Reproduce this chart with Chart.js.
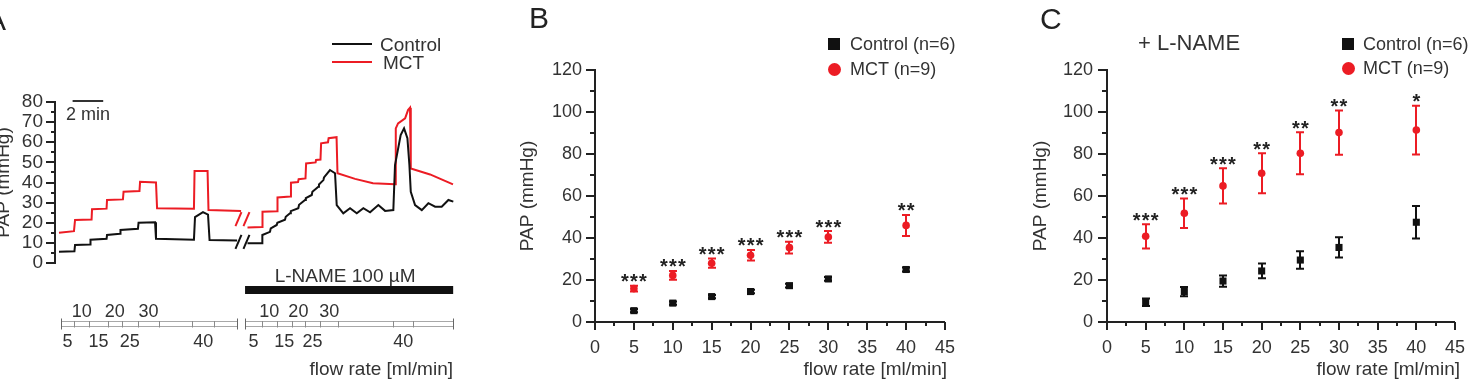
<!DOCTYPE html>
<html><head><meta charset="utf-8">
<script src="https://cdn.jsdelivr.net/npm/chart.js@4.4.1/dist/chart.umd.min.js"></script>
<style>
html,body{margin:0;padding:0;background:#fff;}
body{width:1480px;height:385px;overflow:hidden;position:relative;font-family:"Liberation Sans",Arial,sans-serif;color:#333;}
canvas{position:absolute;top:0;}
.t{position:absolute;white-space:nowrap;line-height:1;}
.sw{position:absolute;}
</style></head>
<body>
<canvas id="cA" width="470" height="385" style="left:0px"></canvas>
<canvas id="cB" width="500" height="385" style="left:470px"></canvas>
<canvas id="cC" width="500" height="385" style="left:980px"></canvas>
<div id="overlay"></div>
<script>
// ---------- Panel A: recorded PAP traces (time in min, pressure in mmHg) ----------
const ctrlPreT = [0.26,1.27,1.31,2.29,2.32,3.37,3.40,4.25,4.28,5.42,5.46,6.54,6.60,9.08,9.15,9.67,10.00,10.10,11.90];
const ctrlPreP = [5.6,5.8,8.9,9.2,11.6,12.0,13.9,14.5,16.4,17.0,20.0,20.2,12.0,11.6,22.8,25.3,24.0,11.4,11.2];
const ctrlPostT = [12.58,13.53,13.55,14.05,14.10,14.49,14.53,15.03,15.08,15.36,15.41,15.90,15.95,16.34,16.39,16.78,16.82,17.21,17.25,17.54,17.58,17.97,18.30,18.41,18.84,19.28,19.72,20.15,20.59,21.13,21.57,22.11,22.22,22.59,22.81,23.03,23.16,23.25,23.53,23.97,24.40,24.84,25.27,25.71,26.03];
const ctrlPostP = [9.8,9.8,13.9,15.5,17.2,18.9,20.0,21.5,23.0,24.7,25.8,27.2,28.9,31.3,32.2,33.8,35.4,37.9,39.0,41.2,42.5,46.2,44.6,28.8,24.7,27.2,24.7,27.2,25.2,28.8,25.9,26.3,48.7,63.6,66.9,62.0,48.7,35.4,28.8,26.3,29.7,28.0,28.0,31.3,30.5];
const mctPreT = [0.26,1.24,1.31,2.39,2.42,3.37,3.40,4.44,4.48,5.52,5.56,6.60,6.67,9.08,9.12,9.97,10.03,12.16];
const mctPreP = [15.0,15.8,21.4,21.6,26.7,27.0,31.3,31.6,35.4,35.8,40.4,40.0,27.2,27.0,45.7,45.7,26.3,25.8];
const mctPostT = [12.58,13.53,13.56,14.51,14.54,15.39,15.42,15.88,15.92,16.37,16.41,17.03,17.06,17.35,17.39,17.84,17.88,18.40,18.46,19.61,20.78,22.22,22.27,22.42,22.88,23.07,23.20,23.25,24.51,26.01];
const mctPostP = [17.7,17.9,25.5,25.7,32.6,33.0,39.9,40.2,41.6,42.0,49.5,50.0,51.2,51.4,59.5,60.0,62.0,62.5,44.6,41.8,39.6,39.1,66.9,69.4,71.9,76.0,77.2,47.0,44.0,39.1];
const breakT = 12.25;
const scaleBarT = [1.15, 3.15];          // "2 min" bar
const lnameT = [12.42, 26.02];            // L-NAME 100 µM application
const flowBoundsPre = [0.37,1.26,2.24,3.44,4.36,5.41,6.80,8.97,10.41,11.87];
const flowBoundsPost = [12.42,13.51,14.49,15.47,16.34,17.32,18.52,22.11,23.42,26.03];
const flowStepLabels = ['5','10','15','20','25','30','','40',''];
const tracePapTicks = [0, 80, 5, 10];     // min, max, minor step, labelled step

// ---------- Panels B and C: mean ± SEM ----------
const flowRates = [5, 10, 15, 20, 25, 30, 40];
const ctrlB    = [5.4, 9.0, 12.1, 14.5, 17.3, 20.5, 25.0];
const ctrlSemB = [0.8, 0.8, 0.8, 0.8, 0.9, 0.9, 0.9];
const mctB     = [15.9, 22.2, 28.0, 31.8, 35.4, 40.5, 46.0];
const mctSemB  = [1.4, 2.1, 2.2, 2.5, 2.8, 2.8, 5.0];
const starsB   = ['***','***','***','***','***','***','**'];
const ctrlC    = [9.4, 14.5, 19.5, 24.3, 29.5, 35.5, 47.5];
const ctrlSemC = [1.8, 2.2, 2.7, 3.5, 4.2, 4.8, 7.7];
const mctC     = [40.8, 51.8, 64.8, 70.8, 80.3, 90.2, 91.4];
const mctSemC  = [5.8, 7.0, 8.4, 9.5, 10.0, 10.5, 11.6];
const starsC   = ['***','***','***','**','**','**','*'];
const groupNames = ['Control (n=6)', 'MCT (n=9)'];
const traceNames = ['Control', 'MCT'];
const xTicksBC = [0, 45, 2.5, 5];
const yTicksBC = [0, 120, 10, 20];

const RED = '#ec1c24', BLACK = '#111111', TXT = '#333333';
const FONT = '"Liberation Sans", Arial, sans-serif';
const pts = (xs, ys) => xs.map((x, i) => ({x, y: ys[i]}));

// ---------- plugins ----------
const tickMarks = {
  id: 'tickMarks',
  afterDraw(chart, args, opts) {
    const ctx = chart.ctx;
    ['x', 'y'].forEach(id => {
      const o = opts[id]; const s = chart.scales[id];
      if (!o || !s) return;
      ctx.save(); ctx.strokeStyle = o.color; ctx.lineWidth = o.width;
      s.ticks.forEach(t => {
        const r = t.value / o.major;
        const major = Math.abs(r - Math.round(r)) < 1e-6;
        const len = major ? o.majorLen : o.minorLen;
        const p = Math.round(s.getPixelForValue(t.value));
        ctx.beginPath();
        if (id === 'y') { ctx.moveTo(s.right, p); ctx.lineTo(s.right - len, p); }
        else { ctx.moveTo(p, s.top); ctx.lineTo(p, s.top + len); }
        ctx.stroke();
      });
      ctx.restore();
    });
  }
};

const axisTitles = {
  id: 'axisTitles',
  afterDraw(chart, args, o) {
    const ctx = chart.ctx, ca = chart.chartArea;
    ctx.save(); ctx.fillStyle = TXT; ctx.font = o.size + 'px ' + FONT;
    if (o.y) {
      ctx.save();
      ctx.translate(o.y.x, (ca.top + ca.bottom) / 2 + (o.y.dy || 0));
      ctx.rotate(-Math.PI / 2);
      ctx.textAlign = 'center'; ctx.textBaseline = 'middle';
      ctx.fillText(o.y.text, 0, 0);
      ctx.restore();
    }
    if (o.x) {
      ctx.textAlign = 'right'; ctx.textBaseline = 'middle';
      ctx.fillText(o.x.text, ca.right + (o.x.dx || 0), o.x.y);
    }
    ctx.restore();
  }
};

const errorBars = {
  id: 'errorBars',
  beforeDatasetsDraw(chart) {
    const ctx = chart.ctx, xs = chart.scales.x, ys = chart.scales.y;
    chart.data.datasets.forEach(ds => {
      if (!ds.sem) return;
      ctx.save(); ctx.strokeStyle = ds.borderColor; ctx.lineWidth = 2;
      ds.data.forEach((p, j) => {
        const x = Math.round(xs.getPixelForValue(p.x));
        const yt = ys.getPixelForValue(p.y + ds.sem[j]);
        const yb = ys.getPixelForValue(p.y - ds.sem[j]);
        ctx.beginPath();
        ctx.moveTo(x, yt); ctx.lineTo(x, yb);
        ctx.moveTo(x - 4, yt); ctx.lineTo(x + 4, yt);
        ctx.moveTo(x - 4, yb); ctx.lineTo(x + 4, yb);
        ctx.stroke();
      });
      ctx.restore();
    });
  },
  afterDatasetsDraw(chart) {
    const ctx = chart.ctx, xs = chart.scales.x, ys = chart.scales.y;
    chart.data.datasets.forEach(ds => {
      if (!ds.stars) return;
      ctx.save(); ctx.fillStyle = '#222'; ctx.font = 'bold 20px ' + FONT;
      ctx.textAlign = 'center'; ctx.textBaseline = 'alphabetic';
      ds.data.forEach((p, j) => {
        const s = ds.stars[j]; if (!s) return;
        const x = xs.getPixelForValue(p.x);
        const cy = ys.getPixelForValue(p.y + ds.sem[j]) - 9;
        const n = s.length;
        for (let k = 0; k < n; k++) ctx.fillText('*', x + (k - (n - 1) / 2) * 9, cy + 11.5);
      });
      ctx.restore();
    });
  }
};

function drawRuler(ctx, X, bounds, labels) {
  const x0 = Math.round(X(bounds[0])) + 0.5, x1 = Math.round(X(bounds[bounds.length - 1])) + 0.5;
  ctx.save();
  ctx.strokeStyle = '#a8a8a8'; ctx.lineWidth = 1;
  ctx.beginPath();
  ctx.moveTo(x0, 321.5); ctx.lineTo(x1, 321.5);
  ctx.moveTo(x0, 326.5); ctx.lineTo(x1, 326.5);
  ctx.stroke();
  ctx.strokeStyle = '#8a8a8a';
  for (let i = 1; i < bounds.length - 1; i++) {
    const xx = Math.round(X(bounds[i])) + 0.5;
    ctx.beginPath(); ctx.moveTo(xx, 321); ctx.lineTo(xx, 327.5); ctx.stroke();
  }
  ctx.strokeStyle = '#666';
  [x0, x1].forEach(xx => { ctx.beginPath(); ctx.moveTo(xx, 318.5); ctx.lineTo(xx, 329.5); ctx.stroke(); });
  ctx.fillStyle = TXT; ctx.font = '18px ' + FONT; ctx.textAlign = 'center'; ctx.textBaseline = 'middle';
  let prevLab = false, prevRow = 'above';
  for (let i = 0; i < labels.length; i++) {
    const lab = labels[i];
    if (!lab) { prevLab = false; continue; }
    const row = (prevLab && prevRow === 'below') ? 'above' : 'below';
    const cx = (X(bounds[i]) + X(bounds[i + 1])) / 2;
    ctx.fillText(lab, cx, row === 'above' ? 312 : 342);
    prevLab = true; prevRow = row;
  }
  ctx.restore();
}

const panelAExtras = {
  id: 'panelAExtras',
  afterDraw(chart) {
    const {ctx, scales: {x, y}} = chart;
    const X = v => x.getPixelForValue(v);
    ctx.save();
    // break marks
    ctx.lineWidth = 2;
    [[mctPreP, mctPostP, RED], [ctrlPreP, ctrlPostP, BLACK]].forEach(([pre, post, col]) => {
      const cy = y.getPixelForValue((pre[pre.length - 1] + post[0]) / 2);
      const cx = X(breakT);
      ctx.strokeStyle = col;
      [-4, 4].forEach(dx => {
        ctx.beginPath(); ctx.moveTo(cx + dx - 3, cy + 7); ctx.lineTo(cx + dx + 3, cy - 7); ctx.stroke();
      });
    });
    // 2 min scale bar
    ctx.strokeStyle = '#333'; ctx.lineWidth = 2;
    ctx.beginPath(); ctx.moveTo(X(scaleBarT[0]), 101); ctx.lineTo(X(scaleBarT[1]), 101); ctx.stroke();
    ctx.fillStyle = TXT; ctx.font = '18px ' + FONT; ctx.textAlign = 'center'; ctx.textBaseline = 'middle';
    ctx.fillText('2 min', (X(scaleBarT[0]) + X(scaleBarT[1])) / 2, 115);
    // L-NAME bar
    ctx.fillStyle = '#111';
    ctx.fillRect(X(lnameT[0]), 286, X(lnameT[1]) - X(lnameT[0]), 8);
    ctx.fillStyle = TXT; ctx.font = '19px ' + FONT;
    ctx.fillText('L-NAME 100 \u00B5M', (X(lnameT[0]) + X(lnameT[1])) / 2 - 4, 277);
    ctx.restore();
    drawRuler(ctx, X, flowBoundsPre, flowStepLabels);
    drawRuler(ctx, X, flowBoundsPost, flowStepLabels);
  }
};

const common = {
  responsive: false, animation: false, events: [],
  plugins: {legend: {display: false}, tooltip: {enabled: false}},
};

// ---------- Chart A ----------
new Chart(document.getElementById('cA'), {
  type: 'line',
  data: {datasets: [
    {label: traceNames[0], data: pts(ctrlPreT, ctrlPreP), borderColor: BLACK},
    {label: traceNames[0], data: pts(ctrlPostT, ctrlPostP), borderColor: BLACK},
    {label: traceNames[1], data: pts(mctPreT, mctPreP), borderColor: RED},
    {label: traceNames[1], data: pts(mctPostT, mctPostP), borderColor: RED},
  ]},
  options: {
    ...common,
    layout: {padding: {left: 0, right: 15, top: 102, bottom: 122}},
    elements: {point: {radius: 0}, line: {borderWidth: 2, tension: 0, fill: false}},
    plugins: {
      ...common.plugins,
      tickMarks: {y: {major: tracePapTicks[3], majorLen: 9, minorLen: 4, color: '#222', width: 2}},
      axisTitles: {size: 19, y: {text: 'PAP (mmHg)', x: 4}, x: {text: 'flow rate [ml/min]', y: 370, dx: -2}},
    },
    scales: {
      x: {type: 'linear', display: false, min: 0, max: 26.14},
      y: {
        min: tracePapTicks[0], max: tracePapTicks[1],
        afterFit(s) { s.width = 55; },
        grid: {display: false, drawTicks: false},
        border: {display: true, color: '#222', width: 2},
        ticks: {stepSize: tracePapTicks[2], autoSkip: false, padding: 12, color: TXT,
          font: {family: FONT, size: 19},
          callback: v => (v % tracePapTicks[3] === 0 ? v : '')}
      }
    }
  },
  plugins: [tickMarks, axisTitles, panelAExtras]
});

// ---------- Charts B and C ----------
function groupChart(id, ctrl, ctrlSem, mct, mctSem, stars, yWidth, padRight, yTitleX, xTitleDx, labPad) {
  return new Chart(document.getElementById(id), {
    type: 'scatter',
    data: {datasets: [
      {label: groupNames[1], data: pts(flowRates, mct), sem: mctSem, stars: stars,
       borderColor: RED, backgroundColor: RED, pointStyle: 'circle', pointRadius: 3.8, pointBorderWidth: 0},
      {label: groupNames[0], data: pts(flowRates, ctrl), sem: ctrlSem,
       borderColor: BLACK, backgroundColor: BLACK, pointStyle: 'rect', pointRadius: 5, pointBorderWidth: 0},
    ]},
    options: {
      ...common,
      layout: {padding: {left: 0, right: padRight, top: 70, bottom: 0}},
      plugins: {
        ...common.plugins,
        tickMarks: {
          y: {major: yTicksBC[3], majorLen: 9, minorLen: 5, color: '#222', width: 2},
          x: {major: xTicksBC[3], majorLen: 8, minorLen: 4, color: '#222', width: 2}
        },
        axisTitles: {size: 19, y: {text: 'PAP (mmHg)', x: yTitleX}, x: {text: 'flow rate [ml/min]', y: 370, dx: xTitleDx}},
      },
      scales: {
        x: {
          type: 'linear', min: xTicksBC[0], max: xTicksBC[1],
          afterFit(s) { s.height = 63; },
          grid: {display: false, drawTicks: false},
          border: {display: true, color: '#222', width: 2},
          ticks: {stepSize: xTicksBC[2], autoSkip: false, maxRotation: 0, padding: 15, color: TXT,
            font: {family: FONT, size: 18},
            callback: v => (v % xTicksBC[3] === 0 ? v : '')}
        },
        y: {
          min: yTicksBC[0], max: yTicksBC[1],
          afterFit(s) { s.width = yWidth; },
          grid: {display: false, drawTicks: false},
          border: {display: true, color: '#222', width: 2},
          ticks: {stepSize: yTicksBC[2], autoSkip: false, padding: labPad, color: TXT,
            font: {family: FONT, size: 18},
            callback: v => (v % yTicksBC[3] === 0 ? v : '')}
        }
      }
    },
    plugins: [errorBars, tickMarks, axisTitles]
  });
}
groupChart('cB', ctrlB, ctrlSemB, mctB, mctSemB, starsB, 125, 15, 58, 2, 13);
groupChart('cC', ctrlC, ctrlSemC, mctC, mctSemC, starsC, 127, 13, 61, 5, 14);

// ---------- HTML labels & legends ----------
const ov = document.getElementById('overlay');
function text(str, left, cy, size, extra) {
  const d = document.createElement('div');
  d.className = 't'; d.textContent = str;
  d.style.left = left + 'px'; d.style.top = (cy - 0.49 * size) + 'px'; d.style.fontSize = size + 'px';
  if (extra) Object.assign(d.style, extra);
  ov.appendChild(d); return d;
}
function swatch(left, top, w, h, color, radius) {
  const d = document.createElement('div');
  d.className = 'sw';
  Object.assign(d.style, {left: left + 'px', top: top + 'px', width: w + 'px', height: h + 'px', background: color, borderRadius: radius || '0'});
  ov.appendChild(d);
}
// panel letters
text('A', -14, 20, 30, {color: '#222'});
text('B', 529, 18, 30, {color: '#222'});
text('C', 1040, 19, 30, {color: '#222'});
// legend A
swatch(332, 43, 40, 2, BLACK); text(traceNames[0], 380, 44, 19);
swatch(332, 61, 40, 2, RED); text(traceNames[1], 383, 62, 19);
// legend B
swatch(828, 38, 12, 12, BLACK); text(groupNames[0], 850, 44, 18);
swatch(827.5, 62.5, 13, 13, RED, '50%'); text(groupNames[1], 850, 69, 18);
// legend C
swatch(1342, 38, 12, 12, BLACK); text(groupNames[0], 1363, 44, 18);
swatch(1341.5, 61.5, 13, 13, RED, '50%'); text(groupNames[1], 1363, 68, 18);
text('+ L-NAME', 1138, 43, 22);
</script>
</body></html>
